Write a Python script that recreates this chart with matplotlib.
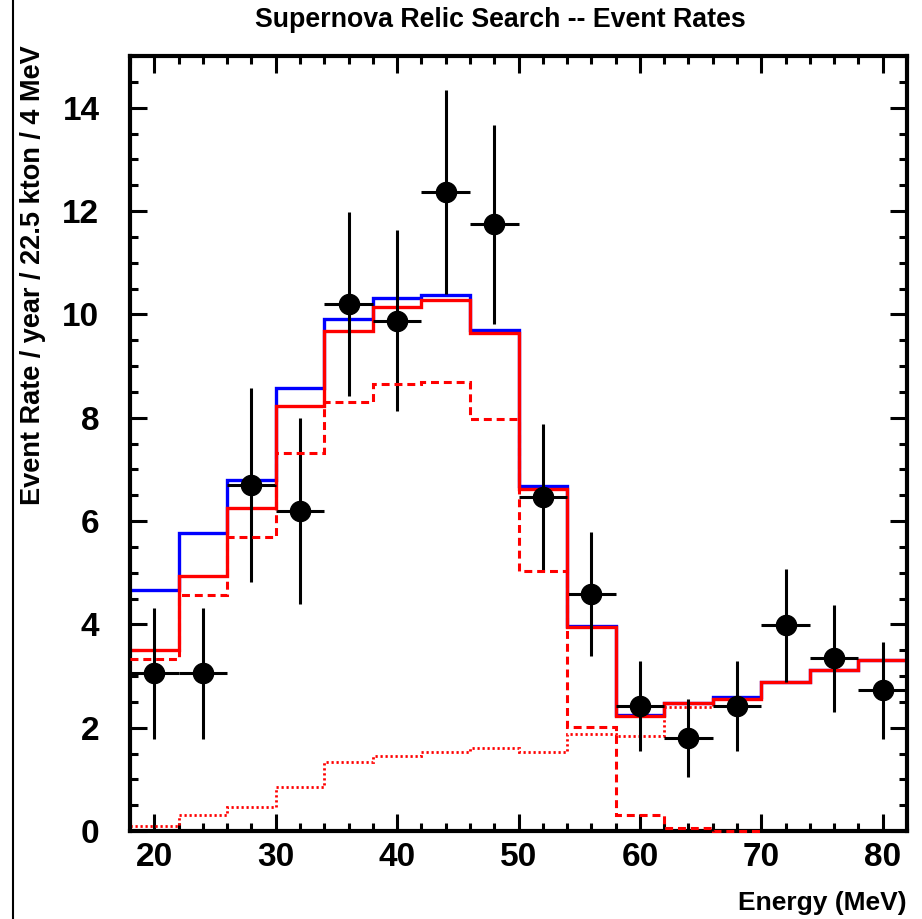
import numpy as np
import matplotlib
matplotlib.use("Agg")
import matplotlib.pyplot as plt
from matplotlib.lines import Line2D
from matplotlib.ticker import MultipleLocator

plt.rcParams["font.family"] = ["Liberation Sans", "DejaVu Sans"]
plt.rcParams["font.weight"] = "bold"

# bin edges (MeV), 4 MeV bins
edges = np.arange(18, 83, 4)
centers = edges[:-1] + 2

# total prediction, blue
total_blue = [4.66, 5.76, 6.80, 8.58, 9.91, 10.32, 10.38, 9.70,
              6.67, 3.96, 2.25, 2.48, 2.60, 2.88, 3.12, 3.31]
# total prediction, red solid
total_red = [3.50, 4.94, 6.25, 8.23, 9.68, 10.15, 10.28, 9.64,
             6.62, 3.94, 2.23, 2.48, 2.56, 2.88, 3.12, 3.31]
# signal component (red dashed), up to 70 MeV
signal_edges = np.arange(18, 71, 4)
signal = [3.33, 4.56, 5.70, 7.31, 8.31, 8.65, 8.70, 7.97,
          5.04, 2.01, 0.31, 0.05, 0.0]
# background component (red dotted)
background = [0.10, 0.31, 0.47, 0.85, 1.33, 1.45, 1.52, 1.61,
              1.52, 1.87, 1.84, 2.40, 2.55, 2.88, 3.12, 3.31]

# pseudo data
data_y = [3.05, 3.05, 6.70, 6.20, 10.20, 9.88, 12.37, 11.74,
          6.46, 4.59, 2.42, 1.80, 2.42, 3.98, 3.34, 2.72]
data_err = [1.27, 1.27, 1.88, 1.80, 1.78, 1.75, 1.97, 1.92,
            1.42, 1.20, 0.88, 0.76, 0.88, 1.10, 1.04, 0.93]

fig = plt.figure(figsize=(9.22, 9.19), dpi=100)
ax = fig.add_axes([130 / 922, 1 - 831 / 919, 777 / 922, 775 / 919])

ax.stairs(total_blue, edges, baseline=None, color="#0000ff", lw=2.4, zorder=2)
ax.stairs(background, edges, baseline=None, color="#ff0000", lw=2.0,
          linestyle=(0, (0.8, 1.0)), zorder=3)
ax.stairs(signal, signal_edges, baseline=None, color="#ff0000", lw=2.2,
          linestyle=(0, (2.6, 1.6)), zorder=7, clip_on=False)
ax.stairs(total_red, edges, baseline=None, color="#ff0000", lw=2.4, zorder=4)

ax.errorbar(centers, data_y, yerr=data_err, xerr=2, fmt="o", color="black",
            ms=14.5, elinewidth=2.2, capsize=0, zorder=5)

ax.set_xlim(18, 82)
ax.set_ylim(0, 15)
ax.xaxis.set_major_locator(MultipleLocator(10))
ax.xaxis.set_minor_locator(MultipleLocator(2))
ax.yaxis.set_major_locator(MultipleLocator(2))
ax.yaxis.set_minor_locator(MultipleLocator(0.5))
ax.tick_params(which="both", direction="in", top=True, right=True, width=2.2,
               labelsize=24)
ax.tick_params(which="major", length=12, pad=8)
ax.tick_params(which="minor", length=6)
for lab in ax.get_xticklabels() + ax.get_yticklabels():
    lab.set_fontweight("bold")
ax.tick_params(axis="y", pad=22)
for sp in ax.spines.values():
    sp.set_linewidth(3)
    sp.set_zorder(6)

fig.text(500 / 922, 1 - 20 / 919, "Supernova Relic Search -- Event Rates",
         ha="center", va="center", fontsize=19.3, fontweight="bold")
fig.text(907 / 922, 1 - 903 / 919, "Energy (MeV)", ha="right", va="center",
         fontsize=19, fontweight="bold")
fig.text(33 / 922, 1 - 45 / 919, "Event Rate / year / 22.5 kton / 4 MeV",
         ha="center", va="top", rotation=90, fontsize=19.5, fontweight="bold")

# canvas border on the left
fig.add_artist(Line2D([13 / 922, 13 / 922], [0, 1], color="black", lw=1.5))

fig.savefig("out.png", dpi=100)
